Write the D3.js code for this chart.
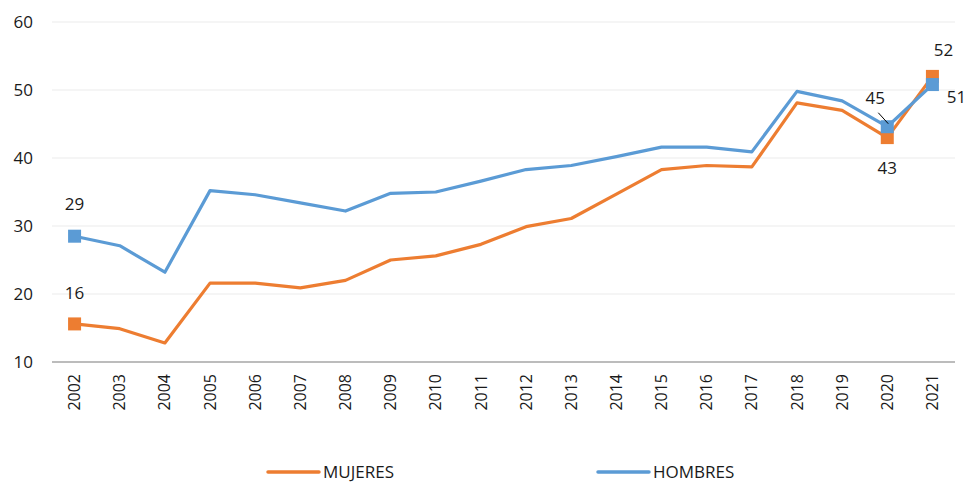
<!DOCTYPE html>
<html>
<head>
<meta charset="utf-8">
<script src="https://cdn.jsdelivr.net/npm/d3@7"></script>
<style>
  body { margin: 0; background: #fff; }
  text { font-family: "Open Sans", sans-serif; fill: #1a1a1a; }
</style>
</head>
<body>
<div id="chart"></div>
<script>
// data
const years = ['2002','2003','2004','2005','2006','2007','2008','2009','2010','2011',
               '2012','2013','2014','2015','2016','2017','2018','2019','2020','2021'];
const mujeres = [15.6, 14.9, 12.8, 21.6, 21.6, 20.9, 22.0, 25.0, 25.6, 27.3,
                 29.9, 31.1, 34.7, 38.3, 38.9, 38.7, 48.1, 47.0, 43.0, 52.0];
const hombres = [28.5, 27.1, 23.2, 35.2, 34.6, 33.4, 32.2, 34.8, 35.0, 36.6,
                 38.3, 38.9, 40.2, 41.6, 41.6, 40.9, 49.8, 48.4, 44.6, 50.8];
const yTicks = [10, 20, 30, 40, 50, 60];
const markedYears = ['2002', '2020', '2021'];

const width = 965, height = 482;
const margin = { top: 22, right: 10, bottom: 120, left: 52 };

const svg = d3.select('#chart').append('svg')
    .attr('width', width)
    .attr('height', height);

const x = d3.scaleBand()
    .domain(years)
    .range([margin.left, width - margin.right]);

const y = d3.scaleLinear()
    .domain([10, 60])
    .range([height - margin.bottom, margin.top]);

const cx = d => x(d) + x.bandwidth() / 2;

// gridlines
svg.append('g')
    .selectAll('line')
    .data(yTicks.filter(t => t > 10))
    .enter().append('line')
    .attr('x1', margin.left)
    .attr('x2', width - margin.right)
    .attr('y1', d => y(d))
    .attr('y2', d => y(d))
    .attr('stroke', '#ebebeb')
    .attr('stroke-width', 1);

// y tick labels
svg.append('g')
    .selectAll('text')
    .data(yTicks)
    .enter().append('text')
    .attr('x', 33)
    .attr('y', d => y(d))
    .attr('dy', '0.35em')
    .attr('text-anchor', 'end')
    .style('font-size', '17px')
    .text(d => d);

// x axis line
svg.append('line')
    .attr('x1', margin.left)
    .attr('x2', width - margin.right)
    .attr('y1', y(10))
    .attr('y2', y(10))
    .attr('stroke', '#a6a6a6')
    .attr('stroke-width', 1.5);

// year labels, rotated
svg.append('g')
    .selectAll('text')
    .data(years)
    .enter().append('text')
    .attr('transform', d => `translate(${cx(d)}, ${y(10) + 12}) rotate(-90)`)
    .attr('text-anchor', 'end')
    .attr('dy', '0.35em')
    .style('font-size', '16px')
    .text(d => d);

const series = [
    { name: 'MUJERES', values: mujeres, color: '#ed7d31' },
    { name: 'HOMBRES', values: hombres, color: '#5b9bd5' }
];

const line = d3.line()
    .x((d, i) => cx(years[i]))
    .y(d => y(d));

series.forEach(s => {
    svg.append('path')
        .datum(s.values)
        .attr('fill', 'none')
        .attr('stroke', s.color)
        .attr('stroke-width', 3.2)
        .attr('stroke-linejoin', 'round')
        .attr('d', line);
});

// square markers on selected years
const ms = 13;
series.forEach(s => {
    svg.append('g')
        .selectAll('rect')
        .data(markedYears)
        .enter().append('rect')
        .attr('x', d => cx(d) - ms / 2)
        .attr('y', d => y(s.values[years.indexOf(d)]) - ms / 2)
        .attr('width', ms)
        .attr('height', ms)
        .attr('fill', s.color);
});

// data labels
const fmt = v => Math.round(v);
const iOf = d => years.indexOf(d);
const labels = [
    { year: '2002', v: hombres[iOf('2002')], dx: 0, dy: -32 },
    { year: '2002', v: mujeres[iOf('2002')], dx: 0, dy: -31 },
    { year: '2020', v: hombres[iOf('2020')], dx: -12, dy: -29 },
    { year: '2020', v: mujeres[iOf('2020')], dx: 0, dy: 30 },
    { year: '2021', v: mujeres[iOf('2021')], dx: 11, dy: -26 },
    { year: '2021', v: hombres[iOf('2021')], dx: 24, dy: 12 }
];
svg.append('g')
    .selectAll('text')
    .data(labels)
    .enter().append('text')
    .attr('x', d => cx(d.year) + d.dx)
    .attr('y', d => y(d.v) + d.dy)
    .attr('dy', '0.35em')
    .attr('text-anchor', 'middle')
    .style('font-size', '17px')
    .text(d => fmt(d.v));

// leader line for the 45 label
svg.append('line')
    .attr('x1', cx('2020') - 9)
    .attr('y1', y(hombres[iOf('2020')]) - 14)
    .attr('x2', cx('2020') + 1)
    .attr('y2', y(hombres[iOf('2020')]) - 3)
    .attr('stroke', '#000')
    .attr('stroke-width', 1);

// legend
const legendX = [268, 598];
const legend = svg.append('g')
    .selectAll('g')
    .data(series)
    .enter().append('g')
    .attr('transform', (d, i) => `translate(${legendX[i]}, 472)`);

legend.append('line')
    .attr('x1', 0)
    .attr('x2', 51)
    .attr('stroke', d => d.color)
    .attr('stroke-width', 3.5)
    .attr('stroke-linecap', 'round');

legend.append('text')
    .attr('x', 55)
    .attr('dy', '0.35em')
    .style('font-size', '17px')
    .text(d => d.name);
</script>
</body>
</html>
